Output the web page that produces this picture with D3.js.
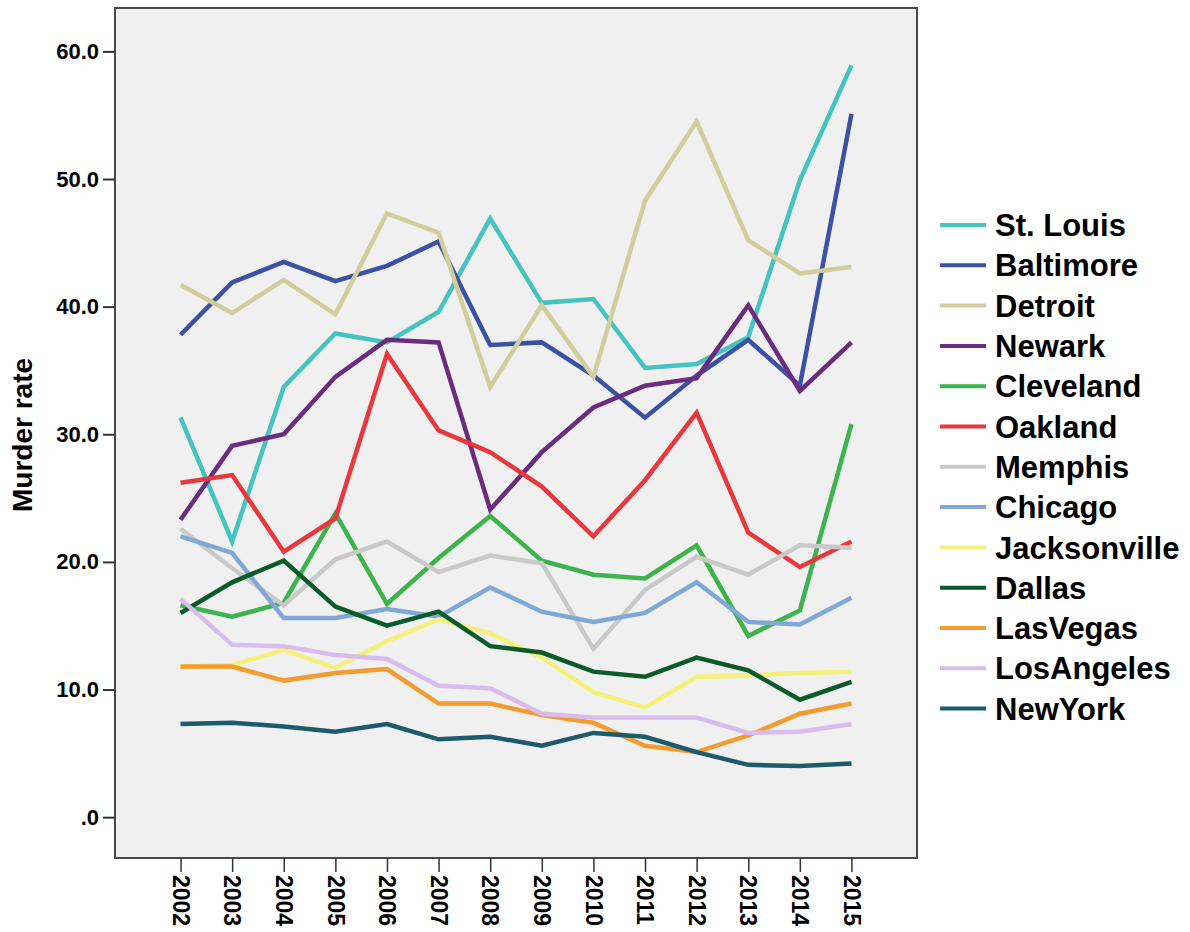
<!DOCTYPE html>
<html>
<head>
  <meta charset="utf-8">
  <title>Murder rate</title>
  <script src="https://d3js.org/d3.v7.min.js"></script>
  <style>
    body { margin: 0; background: #fff; }
    text { font-family: "Liberation Sans", Arial, sans-serif; fill: #000; }
  </style>
</head>
<body>
  <svg class="chart" width="1190" height="932"></svg>
  <script>
    var years = [2002, 2003, 2004, 2005, 2006, 2007, 2008, 2009, 2010, 2011, 2012, 2013, 2014, 2015];
    var yTicks = [0, 10, 20, 30, 40, 50, 60];

    var cities = ["St. Louis", "Baltimore", "Detroit", "Newark", "Cleveland", "Oakland", "Memphis",
                  "Chicago", "Jacksonville", "Dallas", "LasVegas", "LosAngeles", "NewYork"];
    var colors = ["#45c3c0", "#3b51a3", "#d1cd9c", "#6b2c7f", "#3cb44b", "#e8383d", "#c9c9c9",
                  "#80a8d6", "#f5f07a", "#0b5a2a", "#f39b2f", "#d9bcee", "#1c5a6e"];

    var stLouis      = [31.3, 21.6, 33.7, 37.9, 37.2, 39.6, 46.9, 40.3, 40.6, 35.2, 35.5, 37.6, 49.9, 58.9];
    var baltimore    = [37.8, 41.9, 43.5, 42.0, 43.2, 45.1, 37.0, 37.2, 34.6, 31.3, 34.6, 37.4, 33.8, 55.1];
    var detroit      = [41.7, 39.5, 42.1, 39.4, 47.3, 45.8, 33.7, 40.1, 34.5, 48.3, 54.5, 45.2, 42.6, 43.1];
    var newark       = [23.3, 29.1, 30.0, 34.5, 37.4, 37.2, 24.1, 28.6, 32.1, 33.8, 34.4, 40.1, 33.4, 37.2];
    var cleveland    = [16.6, 15.7, 16.8, 23.8, 16.7, 20.3, 23.6, 20.1, 19.0, 18.7, 21.3, 14.2, 16.2, 30.8];
    var oakland      = [26.2, 26.8, 20.8, 23.4, 36.3, 30.3, 28.6, 25.9, 22.0, 26.4, 31.7, 22.3, 19.6, 21.6];
    var memphis      = [22.6, 19.5, 16.6, 20.2, 21.6, 19.2, 20.5, 19.9, 13.2, 17.8, 20.4, 19.0, 21.3, 21.1];
    var chicago      = [22.0, 20.7, 15.6, 15.6, 16.3, 15.7, 18.0, 16.1, 15.3, 16.0, 18.4, 15.3, 15.1, 17.2];
    var jacksonville = [11.8, 11.9, 13.1, 11.7, 13.8, 15.5, 14.4, 12.5, 9.8, 8.6, 11.0, 11.1, 11.3, 11.4];
    var dallas       = [16.0, 18.4, 20.1, 16.5, 15.0, 16.1, 13.4, 12.9, 11.4, 11.0, 12.5, 11.5, 9.2, 10.6];
    var lasVegas     = [11.8, 11.8, 10.7, 11.3, 11.6, 8.9, 8.9, 8.0, 7.4, 5.6, 5.1, 6.4, 8.1, 8.9];
    var losAngeles   = [17.1, 13.5, 13.4, 12.7, 12.4, 10.3, 10.1, 8.1, 7.8, 7.8, 7.8, 6.6, 6.7, 7.3];
    var newYork      = [7.3, 7.4, 7.1, 6.7, 7.3, 6.1, 6.3, 5.6, 6.6, 6.3, 5.1, 4.1, 4.0, 4.2];

    var values = [stLouis, baltimore, detroit, newark, cleveland, oakland, memphis,
                  chicago, jacksonville, dallas, lasVegas, losAngeles, newYork];

    var series = cities.map(function(c, i) {
      return { name: c, color: colors[i], values: values[i] };
    });

    var svg = d3.select("svg.chart");
    var plot = { left: 115, top: 8, right: 917, bottom: 858 };

    var x = d3.scalePoint()
      .domain(years)
      .range([plot.left, plot.right])
      .padding(1.27);

    var y = d3.scaleLinear()
      .domain([-3.2, 63.4])
      .range([plot.bottom, plot.top]);

    // plot background + frame
    svg.append("rect")
      .attr("x", plot.left).attr("y", plot.top)
      .attr("width", plot.right - plot.left)
      .attr("height", plot.bottom - plot.top)
      .attr("fill", "#f0f0f0")
      .attr("stroke", "#4a4a4a")
      .attr("stroke-width", 2);

    var yAxis = svg.append("g")
      .attr("transform", "translate(" + plot.left + ",0)")
      .call(d3.axisLeft(y).tickValues(yTicks).tickSize(12).tickPadding(4)
        .tickFormat(function(d) { return d === 0 ? ".0" : d3.format(".1f")(d); }));
    yAxis.select(".domain").remove();
    yAxis.selectAll("line").attr("stroke", "#333").attr("stroke-width", 2);
    yAxis.selectAll("text")
      .style("font-size", "22px").style("font-weight", "bold")
      .attr("font-family", null);

    var xAxis = svg.append("g")
      .attr("transform", "translate(0," + plot.bottom + ")")
      .call(d3.axisBottom(x).tickSize(14).tickPadding(3));
    xAxis.select(".domain").remove();
    xAxis.selectAll("line").attr("stroke", "#333").attr("stroke-width", 1.5);
    xAxis.selectAll("text")
      .style("font-size", "23px").style("font-weight", "bold")
      .attr("font-family", null)
      .attr("transform", "rotate(90)")
      .attr("x", 17).attr("y", 0).attr("dy", "0.36em")
      .style("text-anchor", "start");

    svg.append("text")
      .attr("transform", "translate(32,435) rotate(-90)")
      .attr("text-anchor", "middle")
      .style("font-size", "28px").style("font-weight", "bold")
      .text("Murder rate");

    var line = d3.line()
      .x(function(d, i) { return x(years[i]); })
      .y(function(d) { return y(d); });

    svg.append("g").selectAll("path")
      .data(series)
      .enter().append("path")
      .attr("d", function(d) { return line(d.values); })
      .attr("fill", "none")
      .attr("stroke", function(d) { return d.color; })
      .attr("stroke-width", 4.5)
      .attr("stroke-linejoin", "miter");

    // legend
    var legend = svg.append("g").selectAll("g")
      .data(series)
      .enter().append("g")
      .attr("transform", function(d, i) { return "translate(940," + (225 + i * 40.3) + ")"; });

    legend.append("line")
      .attr("x1", 0).attr("x2", 46)
      .attr("stroke", function(d) { return d.color; })
      .attr("stroke-width", 4);

    legend.append("text")
      .attr("x", 55).attr("dy", "0.36em")
      .style("font-size", "31px").style("font-weight", "bold")
      .text(function(d) { return d.name; });
  </script>
</body>
</html>
